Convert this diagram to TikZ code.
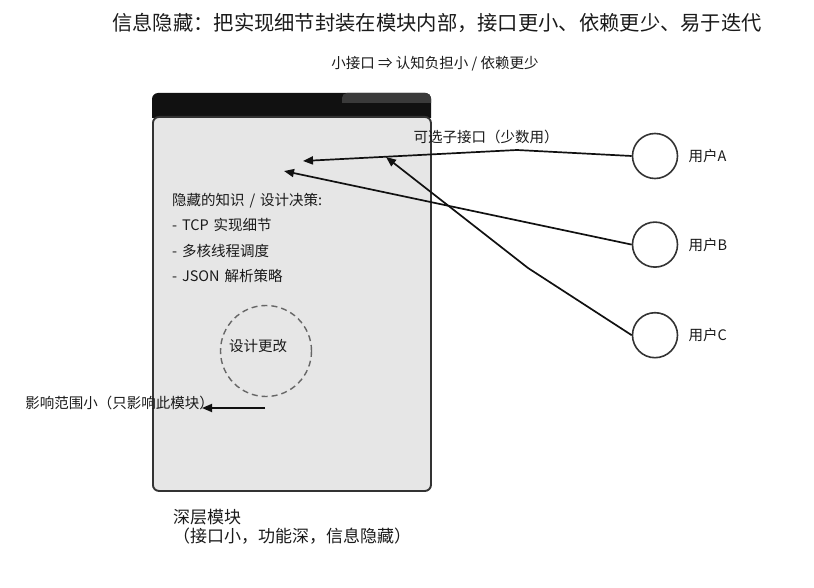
\documentclass[tikz,border=0pt]{standalone}
\usepackage{fontspec}
\setmainfont{Noto Sans CJK SC}
\usetikzlibrary{positioning, chains, arrows.meta}
\definecolor{ink}{HTML}{1A1A1A}
\definecolor{edgegray}{HTML}{333333}
\definecolor{bodygray}{HTML}{E6E6E6}
\definecolor{headblack}{HTML}{111111}
\definecolor{headpatch}{HTML}{3A3A3A}
\definecolor{dashgray}{HTML}{666666}

\begin{document}
\begin{tikzpicture}[x=1pt, y=-1pt, node distance=42pt,
    lbl/.style={font=\fontsize{14.5}{16}\selectfont, text=ink, inner sep=0pt},
    user/.style={circle, draw=edgegray, line width=1.6pt, minimum size=45pt, inner sep=0pt},
    link/.style={draw=headblack, line width=1.7pt, -{Triangle[length=10pt, width=8pt]}}]
    \useasboundingbox (0,0) rectangle (814,588);

    \node[lbl, font=\fontsize{20.3}{24}\selectfont] (title) at (437,23)
      {信息隐藏：把实现细节封装在模块内部，接口更小、依赖更少、易于迭代};
    \node[lbl] (sub) at (435,64) {小接口 ⇒ 认知负担小 / 依赖更少};

    % deep module
    \fill[headblack, rounded corners=6pt] (152,118) -- (152,93) -- (431,93) -- (431,118);
    \fill[headpatch, rounded corners=5pt] (342,103) -- (342,93) -- (431,93) -- (431,103);
    \node[draw=edgegray, fill=bodygray, line width=1.9pt, rounded corners=6pt,
          minimum width=278pt, minimum height=374pt, inner sep=0pt,
          anchor=north west] (mod) at (152,116) {};

    \begin{scope}[start chain=going below, node distance=10pt,
        every node/.style={lbl, text width=220pt, align=left, text height=12pt, text depth=3pt}]
      \node[on chain, anchor=north west] (h1) at (172,193) {隐藏的知识 / 设计决策:};
      \node[on chain] (h2) {- TCP 实现细节};
      \node[on chain] (h3) {- 多核线程调度};
      \node[on chain] (h4) {- JSON 解析策略};
    \end{scope}

    \node[circle, draw=dashgray, dashed, dash pattern=on 6pt off 4pt, line width=1.4pt,
          minimum size=91pt] (chg) at (266,351) {};
    \node[lbl] (chglbl) at (258,346) {设计更改};

    \coordinate (imp0) at (265,408);
    \coordinate (imp1) at (202,408);
    \node[lbl, anchor=east] (imp) at (214,403) {影响范围小（只影响此模块）};
    \draw[link] (imp0) -- (imp1);

    \node[lbl, font=\fontsize{17}{19}\selectfont, align=left,
          below right=17pt and 21pt of mod.south west] (modname)
      {深层模块\\（接口小，功能深，信息隐藏）};

    % users
    \node[user] (uA) at (655,156) {};
    \node[user, below=of uA] (uB) {};
    \node[user, below=44pt of uB] (uC) {};
    \foreach \u/\t in {uA/用户A, uB/用户B, uC/用户C}
      \node[lbl, right=10pt of \u] (\u lbl) {\t};

    \node[lbl] (opt) at (486,137) {可选子接口（少数用）};

    \coordinate (bendA) at (517,150);
    \coordinate (bendC) at (528,268);
    \coordinate (tipA) at (303,161);
    \coordinate (tipB) at (284,171);
    \coordinate (tipC) at (386,157);

    \draw[link] (uA.west) -- (bendA) -- (tipA);
    \draw[link] (uB.west) -- (tipB);
    \draw[link] (uC.west) -- (bendC) -- (tipC);
  \end{tikzpicture}
\end{document}
